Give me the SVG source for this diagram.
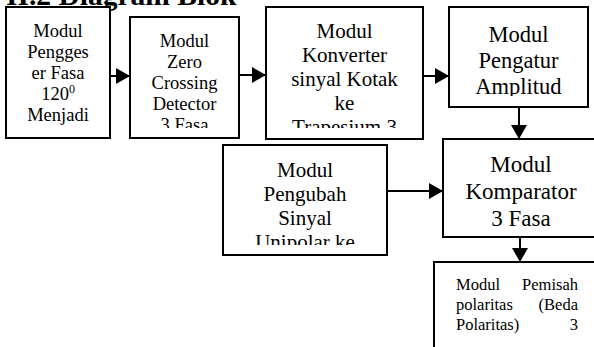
<svg xmlns="http://www.w3.org/2000/svg" width="594" height="347" viewBox="0 0 594 347">
  <style>
    .box { fill: #fff; stroke: #000; stroke-width: 2; }
    .lbl { font-family: "Liberation Serif", "Times New Roman", serif; fill: #000; text-anchor: middle; }
    .wire { stroke: #000; stroke-width: 2; fill: none; marker-end: url(#head); }
    .title { font-family: "Liberation Serif", "Times New Roman", serif; font-weight: bold; font-size: 29.5px; fill: #000; }
  </style>
  <defs>
    <marker id="head" viewBox="0 0 14 16" refX="14" refY="8" markerWidth="14" markerHeight="16" markerUnits="userSpaceOnUse" orient="auto">
      <path d="M0,0 L14,8 L0,16 Z" fill="#000"/>
    </marker>
    <clipPath id="c1"><rect x="7" y="8" width="102" height="120"/></clipPath>
    <clipPath id="c2"><rect x="131" y="18" width="107" height="110"/></clipPath>
    <clipPath id="c3"><rect x="267" y="8" width="155" height="120"/></clipPath>
    <clipPath id="c4"><rect x="450" y="8" width="137" height="88"/></clipPath>
    <clipPath id="c6"><rect x="224" y="146" width="162" height="99"/></clipPath>
  </defs>

  <rect width="594" height="347" fill="#fff"/>

  <text class="title" x="6" y="5">II.2 Diagram Blok</text>

  <g id="pengeser-fasa">
    <rect class="box" x="6" y="7" width="104" height="131"/>
    <g clip-path="url(#c1)" class="lbl" font-size="18.5">
      <text x="58" y="37">Modul</text>
      <text x="58" y="58">Pengges</text>
      <text x="58" y="79">er Fasa</text>
      <text x="58" y="100">120<tspan dy="-7" font-size="12">0</tspan></text>
      <text x="58" y="121">Menjadi</text>
    </g>
  </g>

  <g id="zero-crossing">
    <rect class="box" x="130" y="17" width="109" height="121"/>
    <g clip-path="url(#c2)" class="lbl" font-size="18.5">
      <text x="184.5" y="47">Modul</text>
      <text x="184.5" y="68">Zero</text>
      <text x="184.5" y="89">Crossing</text>
      <text x="184.5" y="110">Detector</text>
      <text x="184.5" y="131">3 Fasa</text>
    </g>
  </g>

  <g id="konverter">
    <rect class="box" x="266" y="7" width="157" height="132"/>
    <g clip-path="url(#c3)" class="lbl" font-size="21">
      <text x="344.5" y="38">Modul</text>
      <text x="344.5" y="62">Konverter</text>
      <text x="344.5" y="86">sinyal Kotak</text>
      <text x="344.5" y="110">ke</text>
      <text x="344.5" y="134">Trapesium 3</text>
    </g>
  </g>

  <g id="pengatur-amplitud">
    <rect class="box" x="449" y="7" width="139" height="100"/>
    <g clip-path="url(#c4)" class="lbl" font-size="22.5">
      <text x="518.5" y="42">Modul</text>
      <text x="518.5" y="68">Pengatur</text>
      <text x="518.5" y="94">Amplitud</text>
    </g>
  </g>

  <g id="komparator">
    <rect class="box" x="443" y="139" width="156" height="98"/>
    <g class="lbl" font-size="23">
      <text x="521" y="172">Modul</text>
      <text x="521" y="199">Komparator</text>
      <text x="521" y="226">3 Fasa</text>
    </g>
  </g>

  <g id="pengubah-sinyal">
    <rect class="box" x="223" y="145" width="164" height="110"/>
    <g clip-path="url(#c6)" class="lbl" font-size="21">
      <text x="305" y="177">Modul</text>
      <text x="305" y="201">Pengubah</text>
      <text x="305" y="225">Sinyal</text>
      <text x="305" y="249">Unipolar ke</text>
    </g>
  </g>

  <g id="pemisah-polaritas">
    <rect class="box" x="434" y="262" width="170" height="100"/>
    <g class="lbl" font-size="16.5">
      <text x="456" y="290" text-anchor="start">Modul</text>
      <text x="578" y="290" text-anchor="end">Pemisah</text>
      <text x="456" y="310" text-anchor="start">polaritas</text>
      <text x="578" y="310" text-anchor="end">(Beda</text>
      <text x="456" y="330" text-anchor="start">Polaritas)</text>
      <text x="578" y="330" text-anchor="end">3</text>
    </g>
  </g>

  <g id="connectors">
    <line class="wire" x1="110" y1="76" x2="130" y2="76"/>
    <line class="wire" x1="239" y1="75" x2="266" y2="75"/>
    <line class="wire" x1="423" y1="76" x2="449" y2="76"/>
    <line class="wire" x1="519" y1="107" x2="519" y2="139"/>
    <line class="wire" x1="387" y1="191" x2="443" y2="191"/>
    <line class="wire" x1="520" y1="237" x2="520" y2="262"/>
  </g>
</svg>
